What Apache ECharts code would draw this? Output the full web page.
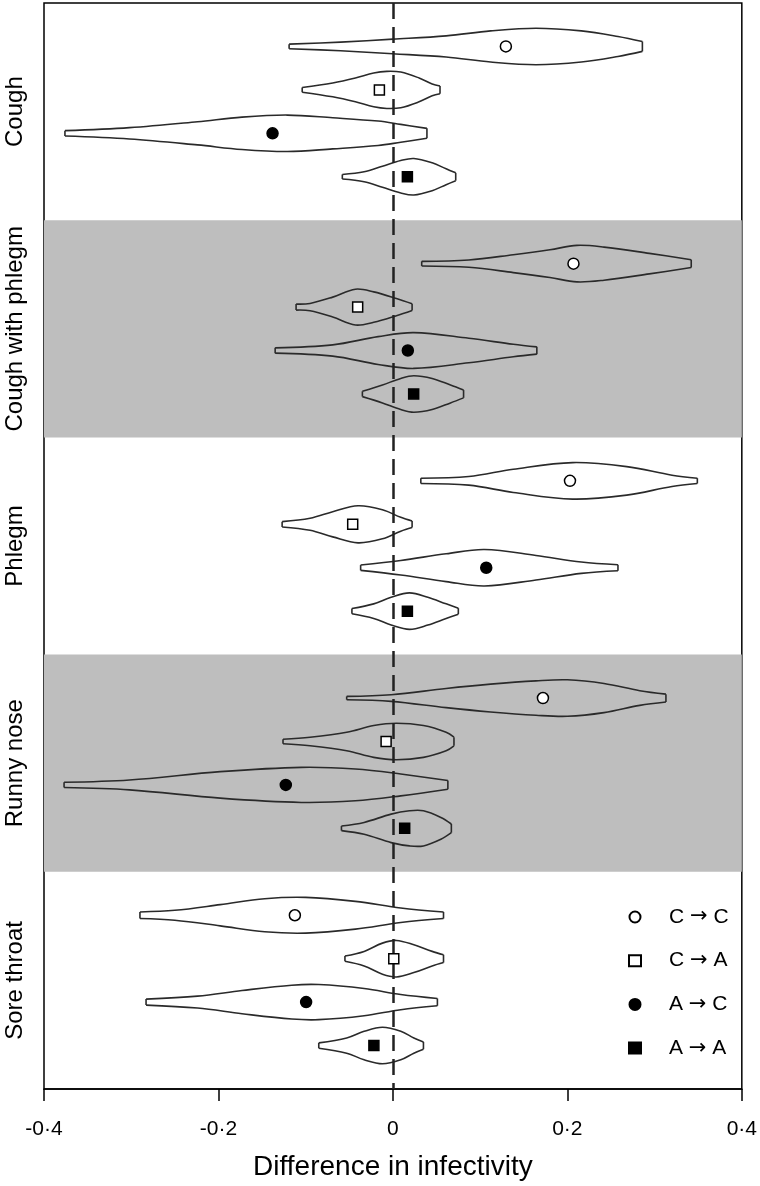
<!DOCTYPE html>
<html><head><meta charset="utf-8">
<script src="https://cdn.jsdelivr.net/npm/echarts@6/dist/echarts.min.js"></script>
<style>html,body{margin:0;padding:0;background:#fff;overflow:hidden}#c{width:760px;height:1186px}</style>
</head><body><div id="c"></div>
<script>
// ---------- data ----------
const groups = ['Cough', 'Cough with phlegm', 'Phlegm', 'Runny nose', 'Sore throat'];
const transmissions = ['C \u2192 C', 'C \u2192 A', 'A \u2192 C', 'A \u2192 A'];
const xTickValues = [-0.4, -0.2, 0, 0.2, 0.4];
const xTitle = 'Difference in infectivity';

// point estimates, one per group (in group order)
const pointCC = [0.1295, 0.207, 0.203, 0.172, -0.1124];
const pointCA = [-0.0155, -0.0404, -0.0461, -0.0078, 0.001];
const pointAC = [-0.138, 0.0171, 0.107, -0.1228, -0.0995];
const pointAA = [0.0166, 0.0238, 0.0166, 0.0135, -0.0218];

// violin outlines: [difference, half-width], one list per group
const violinCC = [
  [[-0.119,0.053],[-0.06,0.10],[0,0.168],[0.061,0.244],[0.112,0.358],[0.164,0.42],[0.216,0.358],[0.258,0.23],[0.286,0.114]],
  [[0.033,0.053],[0.087,0.084],[0.138,0.206],[0.18,0.32],[0.211,0.42],[0.242,0.381],[0.294,0.236],[0.342,0.09]],
  [[0.032,0.061],[0.087,0.099],[0.138,0.267],[0.206,0.42],[0.268,0.328],[0.32,0.13],[0.349,0.061]],
  [[-0.053,0.038],[-0.002,0.076],[0.061,0.221],[0.112,0.32],[0.164,0.396],[0.2,0.42],[0.242,0.335],[0.283,0.168],[0.313,0.09]],
  [[-0.29,0.076],[-0.25,0.114],[-0.198,0.244],[-0.147,0.381],[-0.1,0.412],[-0.043,0.32],[0.009,0.168],[0.058,0.076]]
];
const violinCA = [
  [[-0.104,0.053],[-0.069,0.16],[-0.043,0.274],[-0.022,0.389],[-0.007,0.427],[0.009,0.41],[0.030,0.274],[0.045,0.137],[0.054,0.09]],
  [[-0.111,0.069],[-0.095,0.084],[-0.069,0.229],[-0.043,0.412],[-0.022,0.35],[0.004,0.198],[0.022,0.076]],
  [[-0.127,0.061],[-0.095,0.137],[-0.069,0.29],[-0.040,0.427],[-0.012,0.335],[0.009,0.16],[0.022,0.076]],
  [[-0.126,0.053],[-0.095,0.099],[-0.053,0.213],[-0.022,0.366],[0.004,0.42],[0.035,0.366],[0.061,0.213],[0.07,0.099]],
  [[-0.055,0.061],[-0.033,0.168],[-0.012,0.358],[0.004,0.42],[0.024,0.32],[0.045,0.168],[0.058,0.09]]
];
const violinAC = [
  [[-0.376,0.061],[-0.302,0.13],[-0.224,0.267],[-0.173,0.373],[-0.121,0.42],[-0.069,0.358],[-0.017,0.282],[0.009,0.206],[0.039,0.114]],
  [[-0.135,0.061],[-0.069,0.13],[-0.017,0.32],[0.024,0.412],[0.087,0.282],[0.138,0.145],[0.165,0.084]],
  [[-0.037,0.061],[0.009,0.168],[0.061,0.32],[0.105,0.42],[0.164,0.282],[0.216,0.13],[0.258,0.069]],
  [[-0.377,0.061],[-0.302,0.114],[-0.198,0.305],[-0.105,0.404],[-0.043,0.366],[0.009,0.252],[0.063,0.10]],
  [[-0.283,0.069],[-0.224,0.137],[-0.173,0.267],[-0.116,0.389],[-0.085,0.404],[-0.033,0.313],[0.009,0.175],[0.051,0.084]]
];
const violinAA = [
  [[-0.058,0.053],[-0.033,0.114],[-0.012,0.244],[0.009,0.373],[0.024,0.42],[0.045,0.32],[0.061,0.183],[0.072,0.09]],
  [[-0.035,0.061],[-0.012,0.206],[0.009,0.358],[0.024,0.42],[0.045,0.358],[0.066,0.206],[0.081,0.09]],
  [[-0.047,0.061],[-0.022,0.168],[-0.002,0.32],[0.019,0.42],[0.040,0.32],[0.061,0.168],[0.075,0.069]],
  [[-0.059,0.053],[-0.033,0.137],[-0.002,0.328],[0.019,0.404],[0.035,0.404],[0.055,0.252],[0.067,0.10]],
  [[-0.085,0.061],[-0.053,0.175],[-0.033,0.328],[-0.012,0.42],[0.009,0.328],[0.024,0.175],[0.035,0.084]]
];

// ---------- build ----------
const FONT = '"Liberation Sans", Arial, Helvetica, sans-serif';
const SLOTS = 5; // rows per group band
const points = [pointCC, pointCA, pointAC, pointAA];
const violins = [violinCC, violinCA, violinAC, violinAA];
const symbols = ['circle', 'rect', 'circle', 'rect'];
const symSizes = [11, 10, 11, 10];
const fills = ['#ffffff', '#ffffff', '#000000', '#000000'];

const violinItems = [];
const violinRefs = [];
for (let g = 0; g < groups.length; g++) {
  for (let t = 0; t < 4; t++) {
    violinItems.push([points[t][g], g * SLOTS + t + 1]);
    violinRefs.push(violins[t][g]);
  }
}

const lineStyleV = { stroke: '#2a2a2a', lineWidth: 1.6, fill: null };

const series = [];
series.push({
  type: 'custom',
  name: 'violins',
  coordinateSystem: 'cartesian2d',
  data: violinItems,
  z: 2,
  silent: true,
  renderItem: function (params, api) {
    const prof = violinRefs[params.dataIndex];
    const yc = api.value(1);
    const top = prof.map(p => api.coord([p[0], yc - p[1]]));
    const bot = prof.map(p => api.coord([p[0], yc + p[1]]));
    const n = prof.length;
    return {
      type: 'group',
      children: [
        { type: 'polyline', shape: { points: top, smooth: 0.35 }, style: lineStyleV },
        { type: 'polyline', shape: { points: bot, smooth: 0.35 }, style: lineStyleV },
        { type: 'line', shape: { x1: top[0][0], y1: top[0][1], x2: bot[0][0], y2: bot[0][1] }, style: lineStyleV },
        { type: 'line', shape: { x1: top[n-1][0], y1: top[n-1][1], x2: bot[n-1][0], y2: bot[n-1][1] }, style: lineStyleV }
      ]
    };
  },
  markArea: {
    silent: true,
    itemStyle: { color: '#bebebe' },
    data: [
      [{ yAxis: 1 * SLOTS }, { yAxis: 2 * SLOTS }],
      [{ yAxis: 3 * SLOTS }, { yAxis: 4 * SLOTS }]
    ]
  },
  markLine: {
    silent: true,
    symbol: 'none',
    label: { show: false },
    lineStyle: { color: '#222', width: 2.5, type: [16, 8] },
    data: [{ xAxis: 0 }]
  }
});

for (let t = 0; t < 4; t++) {
  series.push({
    type: 'scatter',
    name: transmissions[t],
    z: 10,
    symbol: symbols[t],
    symbolSize: symSizes[t],
    itemStyle: { color: fills[t], borderColor: '#000', borderWidth: 1.5, opacity: 1 },
    data: points[t].map((v, g) => [v, g * SLOTS + t + 1])
  });
}

const chart = echarts.init(document.getElementById('c'), null, { renderer: 'canvas' });
chart.setOption({
  animation: false,
  backgroundColor: '#fff',
  grid: { left: 44, right: 15, top: 1, bottom: 93, show: true, borderColor: '#000', borderWidth: 1.5, backgroundColor: 'transparent' },
  xAxis: {
    type: 'value',
    min: xTickValues[0],
    max: xTickValues[xTickValues.length - 1],
    interval: 0.2,
    name: xTitle,
    nameLocation: 'middle',
    nameGap: 64,
    nameTextStyle: { fontSize: 28, color: '#000', fontFamily: FONT },
    axisLine: { show: true, onZero: false, lineStyle: { color: '#000', width: 1.5 } },
    axisTick: { show: true, length: 12, lineStyle: { color: '#000', width: 1.5 } },
    axisLabel: {
      margin: 30, fontSize: 21, color: '#000', fontFamily: FONT,
      formatter: v => (Math.abs(v) < 1e-9 ? '0' : v.toFixed(1).replace('.', '\u00b7'))
    },
    splitLine: { show: false }
  },
  yAxis: {
    type: 'value',
    min: 0,
    max: groups.length * SLOTS,
    interval: SLOTS / 2,
    inverse: true,
    axisLine: { show: false, onZero: false },
    axisTick: { show: false },
    splitLine: { show: false },
    axisLabel: {
      rotate: 90, margin: 17, fontSize: 24, color: '#000', fontFamily: FONT,
      formatter: v => {
        const i = Math.round(v / (SLOTS / 2));
        return i % 2 === 1 ? groups[(i - 1) / 2] : '';
      }
    }
  },
  legend: {
    orient: 'vertical',
    left: 623,
    top: 900,
    itemWidth: 12,
    itemHeight: 11,
    itemGap: 19.7,
    selectedMode: false,
    data: transmissions,
    formatter: name => {
      const parts = name.split(' \u2192 ');
      return '{c|' + parts[0] + ' }{r|\u2192}{c| ' + parts[1] + '}';
    },
    textStyle: {
      fontSize: 21, lineHeight: 24, color: '#000', fontFamily: FONT, padding: [0, 0, 0, 23],
      rich: {
        c: { fontSize: 21, lineHeight: 24, color: '#000', fontFamily: FONT },
        r: { fontSize: 21, lineHeight: 24, color: '#000', fontFamily: '"DejaVu Sans", sans-serif' }
      }
    }
  },
  series: series
});
</script>
</body></html>
